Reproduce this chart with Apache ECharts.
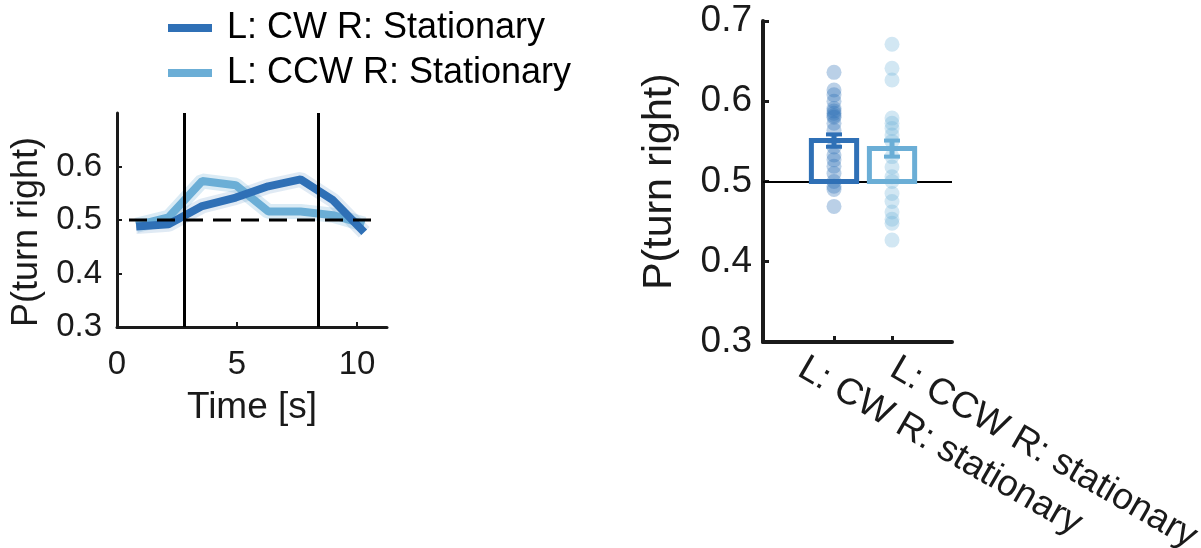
<!DOCTYPE html>
<html><head><meta charset="utf-8">
<script src="https://cdn.jsdelivr.net/npm/echarts@6/dist/echarts.min.js"></script>
<style>html,body{margin:0;padding:0;background:#fff}#c{width:1201px;height:548px}</style>
</head><body><div id="c"></div>
<script>
// ---- left panel data ----
const timeSec       = [0.8, 2.15, 3.55, 4.95, 6.3, 7.65, 9.0, 10.3];
const cwStationary  = [0.488, 0.492, 0.526, 0.542, 0.563, 0.576, 0.537, 0.477];
const ccwStationary = [0.490, 0.505, 0.573, 0.565, 0.516, 0.516, 0.509, 0.492];
const eventTimes    = [2.8, 8.4];
const chanceX       = [0.5, 10.7];
const chanceLevel   = 0.5;
const legendNames   = ['L: CW R: Stationary', 'L: CCW R: Stationary'];
const leftXTicks    = [0, 5, 10];
const leftYTicks    = [0.3, 0.4, 0.5, 0.6];
// ---- right panel data ----
const barCategories = ['L: CW R: stationary', 'L: CCW R: stationary'];
const barPositions  = [1, 2];
const barMeans      = [0.551, 0.541];
const barSem        = [0.0077, 0.010];
const rightYTicks   = [0.3, 0.4, 0.5, 0.6, 0.7];
const cwFlies  = [0.636, 0.614, 0.608, 0.600, 0.591, 0.588, 0.585, 0.582, 0.580, 0.5725, 0.564,
                  0.543, 0.533, 0.527, 0.519, 0.510, 0.500, 0.494, 0.490, 0.469];
const ccwFlies = [0.671, 0.641, 0.6265, 0.579, 0.5725, 0.566, 0.558, 0.550, 0.531, 0.518,
                  0.506, 0.500, 0.485, 0.475, 0.462, 0.453, 0.448, 0.427];

const DARK = '#2f70b6', LIGHT = '#6baed6', AX = '#1a1a1a';
const FONT = '"Liberation Sans", Arial, Helvetica, sans-serif';
const labelAnchors = [0.431, 2.017];

const zip = (xs, ys) => xs.map((x, i) => [x, ys[i]]);
const chart = echarts.init(document.getElementById('c'));

const option = {
  backgroundColor: '#fff',
  animation: false,
  textStyle: { fontFamily: FONT },
  legend: {
    data: legendNames.map(n => ({ name: n })),
    orient: 'vertical', left: 168, top: 10, padding: 0,
    icon: 'rect', itemWidth: 44, itemHeight: 8, itemGap: 9,
    selectedMode: false,
    textStyle: { fontSize: 36, color: '#000', fontFamily: FONT, padding: [0, 0, 0, 10] }
  },
  grid: [
    { left: 117, top: 113, width: 270, height: 214, outerBoundsMode: 'none' },
    { left: 763, top: 21, width: 189, height: 321, outerBoundsMode: 'none' }
  ],
  xAxis: [
    {
      gridIndex: 0, type: 'value', min: 0, max: 11.25,
      axisLine: { show: true, onZero: false, lineStyle: { color: AX, width: 3 } },
      axisTick: { show: true, inside: true, length: 5, lineStyle: { color: AX, width: 2 }, customValues: leftXTicks },
      axisLabel: { customValues: leftXTicks, fontSize: 33, margin: 21, color: AX, fontFamily: FONT },
      splitLine: { show: false },
      name: 'Time [s]', nameLocation: 'middle', nameGap: 62,
      nameTextStyle: { fontSize: 37, color: AX, fontFamily: FONT }
    },
    {
      gridIndex: 1, type: 'value', min: -0.224, max: 3.034,
      axisLine: { show: true, onZero: false, lineStyle: { color: AX, width: 4 } },
      axisTick: { show: true, inside: true, length: 6, lineStyle: { color: AX, width: 3 }, customValues: barPositions },
      axisLabel: {
        customValues: labelAnchors, rotate: -30, fontSize: 37, margin: 24, color: AX, fontFamily: FONT,
        formatter: v => {
          let best = 0;
          labelAnchors.forEach((a, i) => { if (Math.abs(a - v) < Math.abs(labelAnchors[best] - v)) best = i; });
          return barCategories[best];
        }
      },
      splitLine: { show: false }
    }
  ],
  yAxis: [
    {
      gridIndex: 0, type: 'value', min: 0.3, max: 0.7, interval: 0.1,
      axisLine: { show: true, onZero: false, lineStyle: { color: AX, width: 3 } },
      axisTick: { show: true, inside: true, length: 5, lineStyle: { color: AX, width: 2 }, customValues: leftYTicks },
      axisLabel: { customValues: leftYTicks, formatter: v => v.toFixed(1), fontSize: 33, margin: 15, color: AX, fontFamily: FONT },
      splitLine: { show: false },
      name: 'P(turn right)', nameLocation: 'middle', nameGap: 72,
      nameTextStyle: { fontSize: 36, color: AX, fontFamily: FONT, padding: [0, 24, 0, 0] }
    },
    {
      gridIndex: 1, type: 'value', min: 0.3, max: 0.7, interval: 0.1,
      axisLine: { show: true, onZero: false, lineStyle: { color: AX, width: 4 } },
      axisTick: { show: true, inside: true, length: 6, lineStyle: { color: AX, width: 3 }, customValues: rightYTicks },
      axisLabel: { customValues: rightYTicks, formatter: v => v.toFixed(1), fontSize: 37, margin: 11, color: AX, fontFamily: FONT },
      splitLine: { show: false },
      name: 'P(turn right)', nameLocation: 'middle', nameGap: 83,
      nameTextStyle: { fontSize: 41, color: AX, fontFamily: FONT }
    }
  ],
  series: [
    // error bands (left)
    { name: 'band-ccw', type: 'line', xAxisIndex: 0, yAxisIndex: 0, data: zip(timeSec, ccwStationary),
      symbol: 'none', silent: true, z: 1, lineStyle: { color: LIGHT, width: 15, opacity: 0.25 } },
    { name: 'band-cw', type: 'line', xAxisIndex: 0, yAxisIndex: 0, data: zip(timeSec, cwStationary),
      symbol: 'none', silent: true, z: 1, lineStyle: { color: DARK, width: 15, opacity: 0.15 } },
    { name: legendNames[1], type: 'line', xAxisIndex: 0, yAxisIndex: 0, data: zip(timeSec, ccwStationary),
      symbol: 'none', z: 2, color: LIGHT, lineStyle: { color: LIGHT, width: 8 } },
    { name: legendNames[0], type: 'line', xAxisIndex: 0, yAxisIndex: 0, data: zip(timeSec, cwStationary),
      symbol: 'none', z: 3, color: DARK, lineStyle: { color: DARK, width: 8 } },
    { name: 'chance', type: 'line', xAxisIndex: 0, yAxisIndex: 0,
      data: chanceX.map(x => [x, chanceLevel]), symbol: 'none', silent: true, z: 4,
      lineStyle: { color: '#000', width: 3, type: [18, 10] },
      markLine: { silent: true, symbol: 'none', label: { show: false },
        lineStyle: { color: '#000', width: 3, type: 'solid' },
        data: eventTimes.map(t => ({ xAxis: t })) } },
    // right panel: individual flies
    { name: 'flies-cw', type: 'scatter', xAxisIndex: 1, yAxisIndex: 1,
      data: cwFlies.map(v => [barPositions[0], v]), symbolSize: 15, silent: true, z: 2,
      itemStyle: { color: DARK, opacity: 0.33 },
      markLine: { silent: true, symbol: 'none', label: { show: false },
        lineStyle: { color: '#000', width: 2, type: 'solid' }, data: [{ yAxis: chanceLevel }] } },
    { name: 'flies-ccw', type: 'scatter', xAxisIndex: 1, yAxisIndex: 1,
      data: ccwFlies.map(v => [barPositions[1], v]), symbolSize: 15, silent: true, z: 2,
      itemStyle: { color: LIGHT, opacity: 0.3 } },
    // bars (outlined, from chance level)
    { name: 'bars', type: 'custom', xAxisIndex: 1, yAxisIndex: 1, z: 5, silent: true,
      data: zip(barPositions, barMeans),
      renderItem: (params, api) => {
        const x = api.value(0), m = api.value(1);
        const p1 = api.coord([x - 0.39, m]);
        const p2 = api.coord([x + 0.39, chanceLevel]);
        return { type: 'rect', shape: { x: p1[0], y: p1[1], width: p2[0] - p1[0], height: p2[1] - p1[1] },
          style: { fill: 'none', stroke: params.dataIndex === 0 ? DARK : LIGHT, lineWidth: 5 } };
      } },
    // error bars
    { name: 'sem', type: 'custom', xAxisIndex: 1, yAxisIndex: 1, z: 6, silent: true,
      data: barPositions.map((x, i) => [x, barMeans[i], barSem[i]]),
      renderItem: (params, api) => {
        const x = api.value(0), m = api.value(1), s = api.value(2);
        const top = api.coord([x, m + s]), bot = api.coord([x, m - s]);
        const c = params.dataIndex === 0 ? DARK : LIGHT;
        const cw = 8;
        return { type: 'group', children: [
          { type: 'line', shape: { x1: top[0], y1: top[1], x2: bot[0], y2: bot[1] }, style: { stroke: c, lineWidth: 5 } },
          { type: 'line', shape: { x1: top[0] - cw, y1: top[1], x2: top[0] + cw, y2: top[1] }, style: { stroke: c, lineWidth: 4 } },
          { type: 'line', shape: { x1: bot[0] - cw, y1: bot[1], x2: bot[0] + cw, y2: bot[1] }, style: { stroke: c, lineWidth: 4 } }
        ] };
      } }
  ]
};
chart.setOption(option);
</script>
</body></html>
